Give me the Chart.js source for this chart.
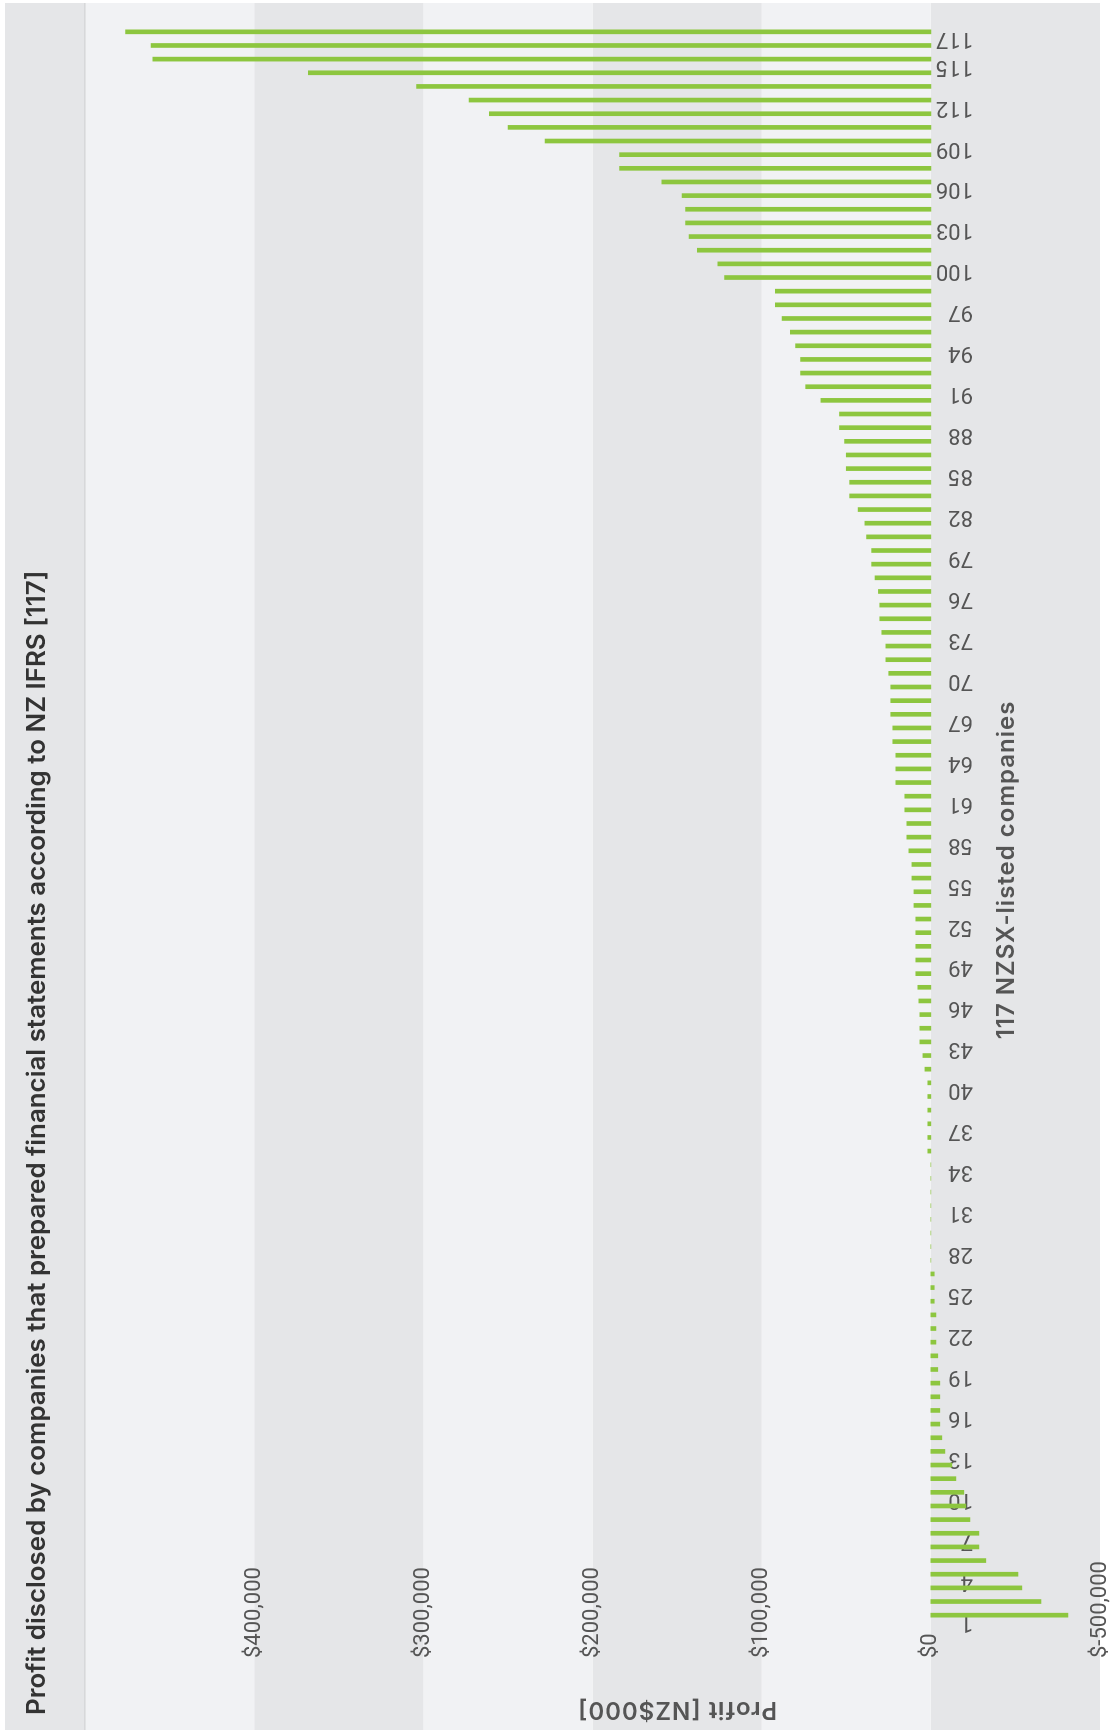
<!DOCTYPE html>
<html>
<head>
<meta charset="utf-8">
<script src="https://cdn.jsdelivr.net/npm/chart.js@4.4.1/dist/chart.umd.min.js"></script>
<style>
  html, body { margin: 0; padding: 0; background: #ffffff; overflow: hidden; width: 1112px; height: 1730px; }
  #wrap { position: absolute; left: 0; top: 0; width: 1730px; height: 1112px;
          transform-origin: 0 0; transform: translate(0, 1730px) rotate(-90deg); }
  canvas { display: block; }
</style>
</head>
<body>
<div id="wrap"><canvas id="chart" width="1730" height="1112" style="width:1730px;height:1112px"></canvas></div>
<script>
// ---------------- data ----------------
const chartTitle = 'Profit disclosed by companies that prepared financial statements according to NZ IFRS [117]';
const xAxisTitle = '117 NZSX-listed companies';
const yAxisTitle = 'Profit [NZ$000]';

// company rank 1..117 (sorted by profit)
const companies = Array.from({ length: 117 }, (_, i) => String(i + 1));

// profit in NZ$000, read against the axis labels (loss side of the axis is compressed 5:1)
const profit = [
  -405500, -325500, -269000, -257500, -162500, -142000, -142000, -115500, -103500, -97500,
  -74000, -62000, -41500, -32500, -26500, -26500, -26500, -26500, -20500, -20500,
  -15000, -15000, -15000, -10000, -10000, -10000, 0, 0, 0, 0,
  0, 0, 0, 0, 1800, 1800, 1800, 1800, 1800, 1800,
  3500, 4700, 6500, 6500, 6500, 7100, 7700, 8900, 8900, 8900,
  8900, 8900, 10000, 10000, 11200, 11200, 13000, 14200, 14200, 15400,
  15400, 20700, 20700, 20700, 22500, 22500, 23700, 23700, 23700, 24900,
  26600, 26600, 29000, 30200, 30200, 31000, 33000, 35000, 35000, 38000,
  39000, 43000, 48000, 48000, 50000, 50000, 51000, 54000, 54000, 65000,
  74000, 77000, 77000, 80000, 83000, 88000, 92000, 92000, 122000, 126000,
  138000, 143000, 145000, 145000, 147000, 159000, 184000, 184000, 228000, 250000,
  261000, 273000, 304000, 368000, 460000, 461000, 476000
];

// category tick labels that are shown
const tickLabels = ['1','4','7','10','13','16','19','22','25','28','31','34','37','40','43','46','49','52','55','58',
  '61','64','67','70','73','76','79','82','85','88','91','94','97','100','103','106','109','112','115','117'];

// value axis
const axisMin = -100000, axisMax = 500000, axisStep = 100000;
const lossScale = 5;   // one step below $0 is labelled $-500,000

// ---------------- styles ----------------
const BAR = '#8dc63f';
const LIGHT = '#f1f2f4';
const DARK = '#e5e6e8';
const TEXT = '#555555';

const plotted = profit.map(v => v < 0 ? v / lossScale : v);

const bandsPlugin = {
  id: 'bands',
  beforeDraw(chart) {
    const { ctx, chartArea, scales: { y } } = chart;
    const x0 = 0, x1 = chart.width - 3;
    ctx.save();
    ctx.fillStyle = '#ffffff';
    ctx.fillRect(0, 0, chart.width, chart.height);
    ctx.fillStyle = DARK;
    ctx.fillRect(x0, 5, x1 - x0, chartArea.top - 5);
    const vals = y.ticks.map(t => t.value);
    for (let i = 0; i < vals.length - 1; i++) {
      const yb = y.getPixelForValue(vals[i]);
      const yt = y.getPixelForValue(vals[i + 1]);
      ctx.fillStyle = (i % 2 === 0) ? DARK : LIGHT;
      ctx.fillRect(x0, yt, x1 - x0, yb - yt);
    }
    ctx.fillStyle = '#d6d7d9';
    ctx.fillRect(x0, chartArea.top - 1, x1 - x0, 1.5);
    ctx.restore();
  }
};

const axisTitlesPlugin = {
  id: 'axisTitles',
  afterDraw(chart) {
    const { ctx, chartArea, scales: { y } } = chart;
    const o = chart.options.scales;
    ctx.save();
    ctx.fillStyle = TEXT;
    ctx.font = '600 24px Inter';
    if ('letterSpacing' in ctx) ctx.letterSpacing = '1px';
    ctx.textAlign = 'center';
    ctx.textBaseline = 'middle';
    ctx.fillText(o.x.title.text, (15 + chartArea.right) / 2, y.getPixelForValue(0) + 76);
    ctx.translate(21, (y.getPixelForValue(400000) + chartArea.bottom) / 2);
    ctx.rotate(-Math.PI / 2);
    ctx.fillText(o.y.title.text, 0, 0);
    ctx.restore();
  }
};

const fmt = v => '$' + v.toLocaleString('en-US');

new Chart(document.getElementById('chart'), {
  type: 'bar',
  data: {
    labels: companies,
    datasets: [{
      data: plotted,
      backgroundColor: BAR,
      borderWidth: 0,
      barThickness: 4
    }]
  },
  options: {
    responsive: false,
    animation: false,
    devicePixelRatio: 1,
    layout: { padding: { left: 15, right: 25, top: 0, bottom: 12 } },
    plugins: {
      legend: { display: false },
      tooltip: { enabled: false },
      title: {
        display: true,
        text: chartTitle,
        align: 'start',
        color: '#333333',
        font: { family: 'Inter', size: 25.9, weight: '600' },
        padding: { top: 22, bottom: 32 }
      }
    },
    scales: {
      x: {
        position: { y: 0 },
        z: 1,
        grid: { display: false, drawTicks: false },
        border: { display: false },
        title: { display: false, text: xAxisTitle },
        ticks: {
          autoSkip: false,
          minRotation: 90,
          maxRotation: 90,
          padding: 5,
          labelOffset: -7,
          color: TEXT,
          font: { family: 'Roboto', size: 22 },
          callback: function (val, index) {
            const lab = companies[index];
            // pad with figure spaces so every label starts on the same line
            return tickLabels.includes(lab) ? lab + '\u2007'.repeat(3 - lab.length) : '';
          }
        }
      },
      y: {
        min: axisMin,
        max: axisMax,
        grid: { display: false, drawTicks: true, tickLength: 165 },
        border: { display: false },
        title: { display: false, text: yAxisTitle },
        ticks: {
          stepSize: axisStep,
          mirror: true,
          padding: -36,
          color: TEXT,
          font: { family: 'Roboto', size: 22 },
          callback: function (v) {
            if (v === axisMax) return '';
            return fmt(v < 0 ? v * lossScale : v);
          }
        }
      }
    }
  },
  plugins: [bandsPlugin, axisTitlesPlugin]
});
</script>
</body>
</html>
